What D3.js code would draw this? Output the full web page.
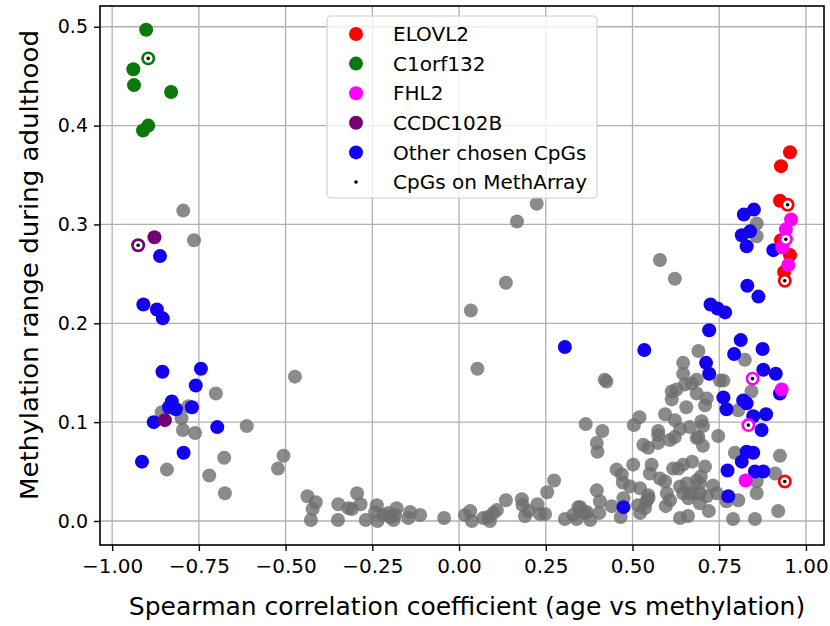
<!DOCTYPE html>
<html><head><meta charset="utf-8">
<script src="https://cdn.jsdelivr.net/npm/d3@7"></script>
<style>body{margin:0;background:#fff}svg{display:block}</style>
</head><body>
<svg id="c" width="830" height="626"></svg>
<script>
const xTicks = [-1.00,-0.75,-0.50,-0.25,0.00,0.25,0.50,0.75,1.00];
const yTicks = [0.0,0.1,0.2,0.3,0.4,0.5];
const legendLabels = ["ELOVL2","C1orf132","FHL2","CCDC102B","Other chosen CpGs","CpGs on MethArray"];

const grayPts = [[-0.795,0.314],[-0.764,0.284],[-0.701,0.129],[-0.780,0.116],[-0.857,0.110],[-0.800,0.104],[-0.796,0.092],[-0.761,0.089],[-0.612,0.096],[-0.473,0.146],[-0.677,0.064],[-0.842,0.052],[-0.720,0.046],[-0.675,0.028],[-0.506,0.066],[-0.522,0.053],
[-0.437,0.025],[-0.413,0.019],[-0.422,0.012],[-0.427,0.001],[-0.348,0.017],[-0.349,0.001],[-0.294,0.028],[-0.319,0.013],[-0.309,0.012],[-0.284,0.017],[-0.269,0.001],[-0.237,0.016],[-0.242,0.009],[-0.235,0.000],[-0.218,0.006],[-0.204,0.008],[-0.189,0.001],[-0.180,0.013],[-0.184,0.006],[-0.199,0.004],[-0.141,0.009],[-0.146,0.003],[-0.112,0.006],[-0.043,0.003],[0.017,0.006],[0.032,0.010],[0.037,0.000],[0.070,0.003],[0.084,0.004],[0.089,0.000],[0.099,0.008],[0.109,0.011],[0.135,0.021],[0.181,0.022],[0.183,0.016],[0.200,0.010],[0.190,0.005],[0.226,0.017],[0.233,0.007],[0.248,0.007],[0.254,0.029],[0.274,0.041],[0.305,0.002],[0.329,0.006],[0.344,0.014],[0.339,0.002],
[0.224,0.321],[0.167,0.303],[0.135,0.241],[0.034,0.213],[0.053,0.154],[0.579,0.264],[0.622,0.245],[0.420,0.143],[0.425,0.141],
[0.365,0.098],[0.413,0.091],[0.397,0.079],[0.399,0.070],[0.520,0.105],[0.504,0.097],[0.454,0.052],[0.469,0.047],[0.472,0.039],[0.502,0.057],[0.522,0.033],[0.493,0.035],[0.397,0.031],[0.406,0.020],[0.440,0.015],[0.404,0.008],[0.349,0.014],[0.363,0.008],[0.378,0.001],[0.466,0.004],[0.522,0.008],[0.536,0.013],[0.546,0.023],[0.540,0.020],[0.516,0.016],[0.555,0.057],[0.550,0.048],[0.579,0.043],[0.594,0.040],[0.599,0.028],[0.596,0.015],[0.637,0.003],[0.637,0.035],[0.608,0.021],[0.617,0.053],[0.632,0.053],[0.646,0.057],[0.531,0.077],[0.545,0.074],[0.574,0.079],[0.574,0.087],[0.574,0.091],[0.608,0.082],[0.622,0.085],[0.637,0.093],[0.594,0.108],[0.622,0.102],[0.613,0.131],[0.613,0.123],[0.627,0.133],[0.646,0.160],[0.646,0.149],[0.651,0.138],[0.685,0.143],[0.685,0.129],[0.685,0.084],[0.646,0.028],[0.661,0.023],[0.675,0.028],[0.685,0.041],[0.545,0.026],[0.474,0.023],[0.368,0.009],
[0.690,0.172],[0.824,0.163],[0.752,0.142],[0.762,0.142],[0.843,0.131],[0.714,0.124],[0.709,0.117],[0.805,0.112],[0.699,0.101],[0.703,0.096],[0.747,0.086],[0.690,0.085],[0.703,0.076],[0.795,0.069],[0.925,0.066],[0.709,0.055],[0.697,0.045],[0.656,0.038],[0.694,0.038],[0.732,0.036],[0.743,0.028],[0.694,0.028],[0.666,0.028],[0.858,0.040],[0.911,0.048],[0.858,0.028],[0.805,0.021],[0.771,0.020],[0.714,0.025],[0.694,0.018],[0.790,0.002],[0.853,0.002],[0.920,0.010],[0.671,0.139],[0.858,0.301],[0.858,0.288],[0.655,0.115],[0.665,0.095],[0.672,0.060],[0.720,0.010],[0.660,0.005]];

const otherPts = [[-0.862,0.268],[-0.910,0.219],[-0.871,0.214],[-0.854,0.205],[-0.855,0.151],[-0.744,0.154],[-0.759,0.137],[-0.828,0.121],[-0.836,0.115],[-0.816,0.113],[-0.770,0.115],[-0.880,0.100],[-0.697,0.095],[-0.794,0.069],[-0.914,0.060],
[0.305,0.176],[0.534,0.173],[0.474,0.014],
[0.850,0.315],[0.821,0.310],[0.815,0.289],[0.839,0.293],[0.829,0.278],[0.906,0.274],[0.831,0.238],[0.863,0.227],[0.725,0.219],[0.745,0.215],[0.767,0.211],[0.721,0.193],[0.812,0.183],[0.793,0.169],[0.875,0.174],[0.712,0.160],[0.721,0.149],[0.877,0.153],[0.913,0.149],[0.925,0.129],[0.762,0.125],[0.771,0.113],[0.819,0.122],[0.829,0.119],[0.848,0.106],[0.885,0.108],[0.872,0.092],[0.829,0.070],[0.848,0.069],[0.815,0.060],[0.774,0.051],[0.853,0.050],[0.877,0.050],[0.776,0.025]];

const ccdcPts = [[-0.878,0.287],[-0.848,0.102]];
const ccdcMeth = [[-0.925,0.279]];
const c1orfPts = [[-0.902,0.497],[-0.939,0.457],[-0.937,0.441],[-0.830,0.434],[-0.896,0.400],[-0.911,0.395]];
const c1orfMeth = [[-0.896,0.468]];
const elovlPts = [[0.954,0.373],[0.928,0.359],[0.925,0.324],[0.928,0.284],[0.954,0.269],[0.937,0.252]];
const elovlMeth = [[0.947,0.320],[0.939,0.243],[0.939,0.040]];
const fhlPts = [[0.957,0.305],[0.942,0.295],[0.932,0.277],[0.949,0.259],[0.930,0.133],[0.826,0.041]];
const fhlMeth = [[0.942,0.285],[0.846,0.144],[0.834,0.097]];

const colors = {elovl:"#ff0000", c1orf:"#0a780a", fhl:"#ff00ff", ccdc:"#740074", other:"#1400f0", gray:"#6e6e6e"};

const svg = d3.select("#c");
const L=100,R=824,T=6,B=545;
const x = d3.scaleLinear().domain([-1.035,1.052]).range([L,R]);
const y = d3.scaleLinear().domain([-0.0243,0.521]).range([B,T]);

// grid
const g = svg.append("g");
g.selectAll(".gx").data(xTicks).join("line").attr("x1",d=>x(d)).attr("x2",d=>x(d)).attr("y1",T).attr("y2",B).attr("stroke","#b0b0b0").attr("stroke-width",1.3);
g.selectAll(".gy").data(yTicks).join("line").attr("y1",d=>y(d)).attr("y2",d=>y(d)).attr("x1",L).attr("x2",R).attr("stroke","#b0b0b0").attr("stroke-width",1.3);

const r = 7;
function dots(data,color,op){
  svg.append("g").selectAll("circle").data(data).join("circle")
    .attr("cx",d=>x(d[0])).attr("cy",d=>y(d[1])).attr("r",r).attr("fill",color).attr("fill-opacity",op);
}
dots(grayPts,colors.gray,0.8);
dots(otherPts,colors.other,1);
dots(ccdcPts,colors.ccdc,1);
dots(c1orfPts,colors.c1orf,1);
dots(elovlPts,colors.elovl,1);
dots(fhlPts,colors.fhl,1);
function meth(data,color){
  const gg = svg.append("g");
  gg.selectAll(".o").data(data).join("circle").attr("cx",d=>x(d[0])).attr("cy",d=>y(d[1])).attr("r",r).attr("fill",color);
  gg.selectAll(".w").data(data).join("circle").attr("cx",d=>x(d[0])).attr("cy",d=>y(d[1])).attr("r",4.3).attr("fill","#fff");
  gg.selectAll(".k").data(data).join("circle").attr("cx",d=>x(d[0])).attr("cy",d=>y(d[1])).attr("r",1.8).attr("fill","#000");
}
meth(ccdcMeth,colors.ccdc);
meth(c1orfMeth,colors.c1orf);
meth(elovlMeth,colors.elovl);
meth(fhlMeth,colors.fhl);

// frame
svg.append("rect").attr("x",L).attr("y",T).attr("width",R-L).attr("height",B-T).attr("fill","none").attr("stroke","#000").attr("stroke-width",1.6);

// axes
const xa = svg.append("g").attr("transform",`translate(0,${B})`)
  .call(d3.axisBottom(x).tickValues(xTicks).tickSize(6).tickPadding(5).tickFormat(d=>d3.format(".2f")(d).replace("-","\u2212")));
const ya = svg.append("g").attr("transform",`translate(${L},0)`)
  .call(d3.axisLeft(y).tickValues(yTicks).tickSize(6).tickPadding(6).tickFormat(d3.format(".1f")));
[xa,ya].forEach(a=>{a.select(".domain").remove();a.selectAll("line").attr("stroke","#000").attr("stroke-width",1.4);
  a.selectAll("text").attr("fill","#000").attr("font-family","DejaVu Sans").attr("font-size",19);});
xa.selectAll("text").attr("font-size",20).attr("dy","0.85em");

// axis labels
const xl = svg.append("text").attr("x",467).attr("y",615).attr("text-anchor","middle")
  .attr("font-family","DejaVu Sans").attr("font-size",25).attr("fill","#000");
xl.append("tspan").text("Spearman correlation coefficient");
xl.append("tspan").attr("dx",8).text("(age vs methylation)");
svg.append("text").attr("transform","translate(38,265) rotate(-90)").attr("text-anchor","middle")
  .attr("font-family","DejaVu Sans").attr("font-size",25).attr("fill","#000")
  .attr("textLength",470).attr("lengthAdjust","spacingAndGlyphs")
  .text("Methylation range during adulthood");

// legend
const lg = svg.append("g");
lg.append("rect").attr("x",327).attr("y",16).attr("width",270).attr("height",182).attr("rx",4)
  .attr("fill","#fff").attr("fill-opacity",0.8).attr("stroke","#d0d0d0").attr("stroke-width",1.2);
const legendColors = [colors.elovl,colors.c1orf,colors.fhl,colors.ccdc,colors.other,"#000"];
legendLabels.forEach((lab,i)=>{
  const yy = 34 + i*29.6;
  lg.append("circle").attr("cx",356).attr("cy",yy).attr("r",i===5?1.8:7).attr("fill",legendColors[i]);
  lg.append("text").attr("x",393).attr("y",yy).attr("dy","0.36em").attr("font-family","DejaVu Sans")
    .attr("font-size",20).attr("fill","#000").text(lab);
});
</script>
</body></html>
